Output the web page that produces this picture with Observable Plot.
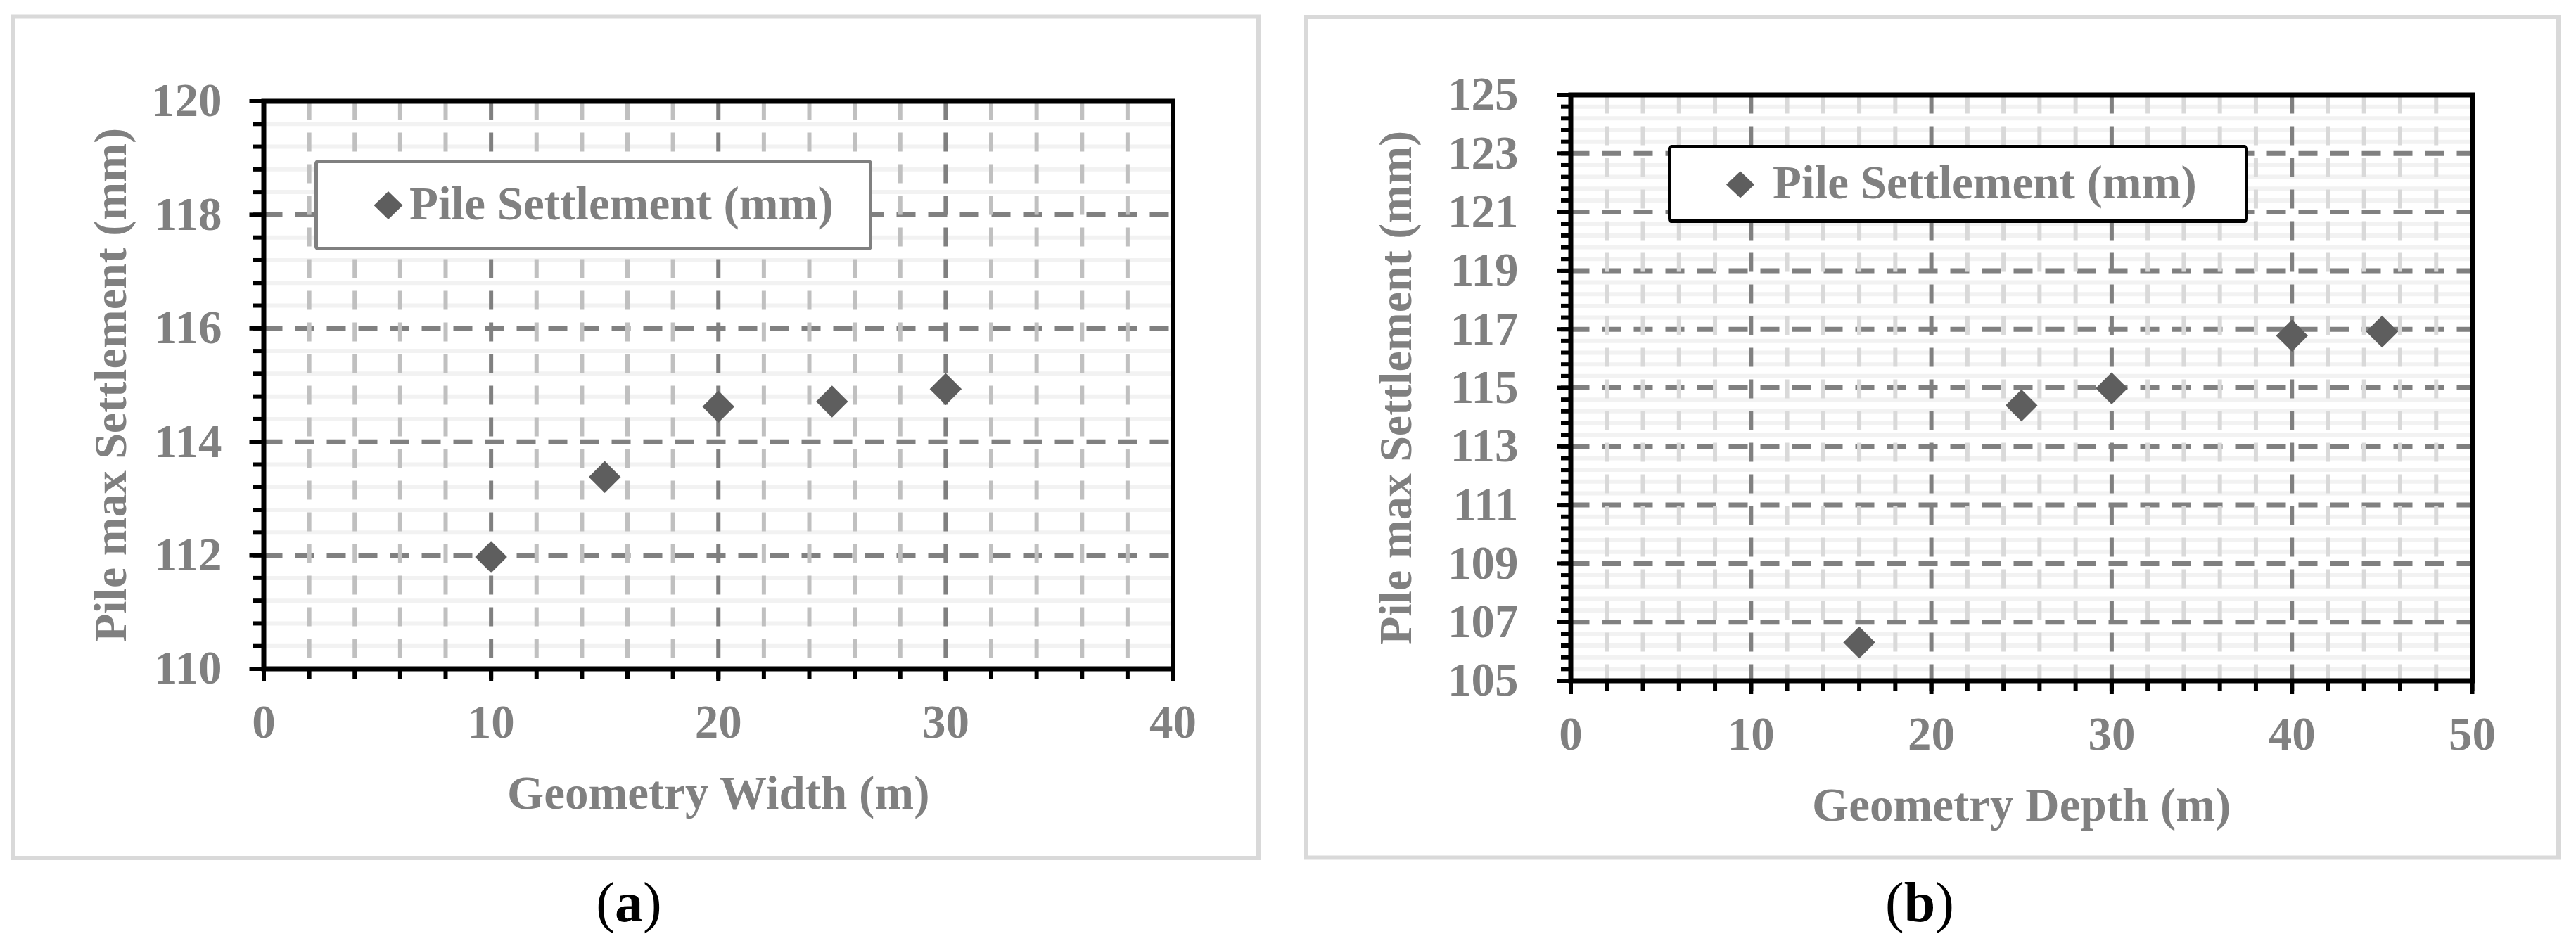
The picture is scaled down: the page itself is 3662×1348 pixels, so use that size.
<!DOCTYPE html>
<html>
<head>
<meta charset="utf-8">
<script src="https://cdn.jsdelivr.net/npm/d3@7"></script>
<script src="https://cdn.jsdelivr.net/npm/@observablehq/plot@0.6"></script>
<style>
  html, body { margin: 0; padding: 0; background: #fff; }
  #root { position: relative; width: 3662px; height: 1348px; overflow: hidden; background: #fff; }
  .layer { position: absolute; top: 0; }
  .layer svg { max-width: none !important; display: block; }
</style>
</head>
<body>
<div id="root"></div>
<script>
// ---------- Data: panel (a) ----------
const widthA = [10, 15, 20, 25, 30];
const settleA = [111.97, 113.38, 114.62, 114.71, 114.93];
const xTicksA = [0, 10, 20, 30, 40];
const yTicksA = [110, 112, 114, 116, 118, 120];
const xTitleA = "Geometry Width (m)";

// ---------- Data: panel (b) ----------
const depthB = [16, 25, 30, 40, 45];
const settleB = [106.31, 114.40, 114.98, 116.78, 116.92];
const xTicksB = [0, 10, 20, 30, 40, 50];
const yTicksB = [105, 107, 109, 111, 113, 115, 117, 119, 121, 123, 125];
const xTitleB = "Geometry Depth (m)";

// ---------- Shared text ----------
const yTitle = "Pile max Settlement (mm)";
const legendLabel = "Pile Settlement (mm)";
const panelLetters = ["a", "b"];

const FONT = "'Liberation Serif', 'Times New Roman', Times, serif";
const GREY = "#808080";
const MARK = "#5e5e5e";

function panel(cfg) {
  const [x0, x1] = cfg.xDomain, [y0, y1] = cfg.yDomain;
  const nY = Math.round((y1 - y0) / cfg.yMinorStep);
  const yMinor = d3.range(nY + 1).map(i => +(y0 + i * cfg.yMinorStep).toFixed(3));
  const yLight = yMinor.filter((v, i) => i % cfg.yPer !== 0);
  const nX = Math.round((x1 - x0) / cfg.xMinorStep);
  const xMinor = d3.range(nX + 1).map(i => x0 + i * cfg.xMinorStep);
  const xLight = xMinor.filter((v, i) => i % cfg.xPer !== 0);
  const yGridMajor = cfg.yTicks.filter(v => v !== y0 && v !== y1);
  const xGridMajor = cfg.xTicks.filter(v => v !== x0 && v !== x1);
  const data = cfg.xs.map((x, i) => ({x, y: cfg.ys[i]}));

  return Plot.plot({
    width: cfg.width,
    height: cfg.height,
    marginLeft: cfg.marginLeft,
    marginRight: cfg.marginRight,
    marginTop: cfg.marginTop,
    marginBottom: cfg.marginBottom,
    style: {fontFamily: FONT, background: "transparent", overflow: "visible", maxWidth: "none"},
    x: {domain: cfg.xDomain, nice: false},
    y: {domain: cfg.yDomain, nice: false},
    marks: [
      Plot.gridY(yLight, {stroke: "#f2f2f2", strokeOpacity: 1, strokeWidth: 6}),
      Plot.gridY(yGridMajor, {stroke: GREY, strokeOpacity: 1, strokeWidth: 7, strokeDasharray: "27,18"}),
      Plot.gridX(xLight, {stroke: cfg.lightV, strokeOpacity: 1, strokeWidth: 6, strokeDasharray: "27,18"}),
      Plot.gridX(xGridMajor, {stroke: GREY, strokeOpacity: 1, strokeWidth: 6, strokeDasharray: "27,18"}),
      Plot.dot(data, {x: "x", y: "y", symbol: "diamond2", r: 20.5, fill: MARK, stroke: "none"}),
      Plot.frame({stroke: "black", strokeWidth: 7}),
      Plot.axisY(yMinor, {anchor: "left", tickSize: cfg.yMinorTick, stroke: "black", strokeWidth: 6, fill: "none", label: null}),
      Plot.axisY(cfg.yTicks, {anchor: "left", tickSize: cfg.yMajorTick, tickPadding: cfg.yPad, stroke: "black", strokeWidth: 6,
        fill: GREY, fontSize: 67, fontWeight: "bold", fontFamily: FONT, tickFormat: d => String(d), label: null}),
      Plot.axisX(xMinor, {anchor: "bottom", tickSize: cfg.xMinorTick, stroke: "black", strokeWidth: 6, fill: "none", label: null}),
      Plot.axisX(cfg.xTicks, {anchor: "bottom", tickSize: cfg.xMajorTick, tickPadding: cfg.xPad, stroke: "black", strokeWidth: 6,
        fill: GREY, fontSize: 67, fontWeight: "bold", fontFamily: FONT, tickFormat: d => String(d), label: null}),
      Plot.text([cfg.xTitle], {frameAnchor: "bottom", dy: 151.3, lineAnchor: "top", textAnchor: "middle", fill: GREY,
        fontSize: 67, fontWeight: "bold", fontFamily: FONT}),
      Plot.text([yTitle], {frameAnchor: "left", rotate: -90, dx: cfg.yTitleDx, textAnchor: "middle", lineAnchor: "middle",
        fill: GREY, fontSize: 66, fontWeight: "bold", fontFamily: FONT})
    ]
  });
}

const root = document.getElementById("root");

// Background overlay: panel borders
const back = d3.create("svg").attr("width", 3662).attr("height", 1348)
  .style("position", "absolute").style("left", "0px").style("top", "0px");
back.append("rect").attr("x", 19).attr("y", 23.5).attr("width", 1770).attr("height", 1196.5)
  .attr("fill", "none").attr("stroke", "#d9d9d9").attr("stroke-width", 6);
back.append("rect").attr("x", 1857).attr("y", 24).attr("width", 1780).attr("height", 1195.5)
  .attr("fill", "none").attr("stroke", "#d9d9d9").attr("stroke-width", 6);
root.appendChild(back.node());

// Panel (a)
const divA = document.createElement("div");
divA.className = "layer"; divA.style.left = "0px";
divA.appendChild(panel({
  width: 1800, height: 1348,
  marginLeft: 374.5, marginRight: 133, marginTop: 143.5, marginBottom: 397.5,
  xDomain: [0, 40], yDomain: [110, 120],
  xTicks: xTicksA, yTicks: yTicksA,
  xMinorStep: 2, xPer: 5, yMinorStep: 0.4, yPer: 5,
  xs: widthA, ys: settleA,
  lightV: "#c0c0c0",
  yMinorTick: 15.5, yMajorTick: 20, yPad: 39.5,
  xMinorTick: 15.5, xMajorTick: 18.5, xPad: 31.7,
  xTitle: xTitleA, yTitleDx: -217.6
}));
root.appendChild(divA);

// Panel (b)
const divB = document.createElement("div");
divB.className = "layer"; divB.style.left = "1831px";
divB.appendChild(panel({
  width: 1831, height: 1348,
  marginLeft: 401.5, marginRight: 148, marginTop: 134.5, marginBottom: 380.5,
  xDomain: [0, 50], yDomain: [105, 125],
  xTicks: xTicksB, yTicks: yTicksB,
  xMinorStep: 2, xPer: 5, yMinorStep: 0.4, yPer: 5,
  xs: depthB, ys: settleB,
  lightV: "#d9d9d9",
  yMinorTick: 13.5, yMajorTick: 18.5, yPad: 56,
  xMinorTick: 15.5, xMajorTick: 19.5, xPad: 30.7,
  xTitle: xTitleB, yTitleDx: -248.6
}));
root.appendChild(divB);

// Foreground overlay: legends and captions
const fore = d3.create("svg").attr("width", 3662).attr("height", 1348)
  .style("position", "absolute").style("left", "0px").style("top", "0px")
  .style("font-family", FONT);

function legend(g, box, stroke, cx, cy, hw, hh, tx, ty) {
  g.append("rect").attr("x", box[0]).attr("y", box[1]).attr("width", box[2]).attr("height", box[3])
    .attr("rx", 3).attr("fill", "white").attr("stroke", stroke).attr("stroke-width", 5);
  g.append("path").attr("d", `M${cx},${cy - hh}L${cx + hw},${cy}L${cx},${cy + hh}L${cx - hw},${cy}Z`)
    .attr("fill", MARK);
  g.append("text").attr("x", tx).attr("y", ty).attr("fill", GREY).attr("font-size", 67)
    .attr("font-weight", "bold").text(legendLabel);
}
legend(fore, [449.5, 229.5, 788, 124], GREY, 552, 292, 20.5, 20, 582, 312);
legend(fore, [2373.5, 208.5, 820, 106], "black", 2474, 262.5, 20, 19, 2520, 282);

function caption(x, letter) {
  const t = fore.append("text").attr("x", x).attr("y", 1310).attr("text-anchor", "middle")
    .attr("font-size", 80).attr("fill", "black");
  t.append("tspan").text("(");
  t.append("tspan").attr("font-weight", "bold").text(letter);
  t.append("tspan").text(")");
}
caption(894, panelLetters[0]);
caption(2729, panelLetters[1]);

root.appendChild(fore.node());
</script>
</body>
</html>
